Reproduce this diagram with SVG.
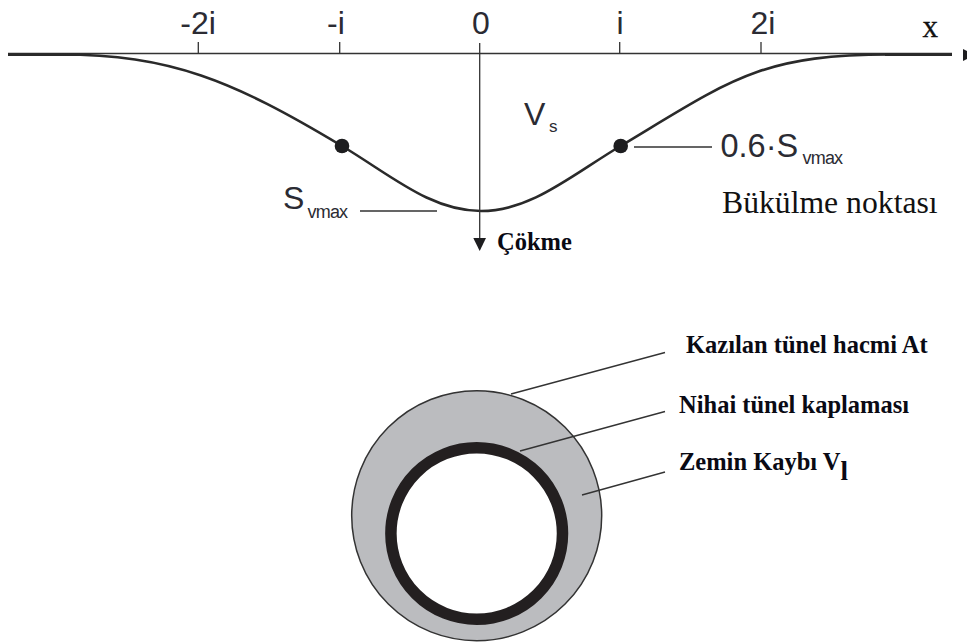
<svg xmlns="http://www.w3.org/2000/svg" width="967" height="643" viewBox="0 0 967 643">
<style>
.s{font-family:"Liberation Sans",Arial,sans-serif;fill:#2b2b33}
.t{font-size:32px;text-anchor:middle}
.v{font-size:18px;letter-spacing:-0.8px}
.b{font-family:"Liberation Serif","Times New Roman",serif;font-weight:bold;fill:#0a0a14;font-size:24.5px}
.r{font-family:"Liberation Serif","Times New Roman",serif;fill:#111}
.l{stroke:#333;fill:none;stroke-width:1.3}
.k{stroke:#2a2a2a;fill:none;stroke-width:2.6}
.d{fill:#1d1d1f}
</style>
<rect width="967" height="643" fill="#fff"/>
<g id="connectors">
<path class="l" d="M8 53.5H952M198.3 42V53.5M339.7 42V53.5M619.7 42V53.5M761 42V53.5"/>
<path class="k" d="M8 54.6H80M885 54.6H952"/>
<path class="d" d="M963 49L975 55L963 61Z"/>
<path class="k" d="M60 54.5C170 54.5 232 80 342 146C392 176 431 211 481 211C531 211 570.500 176 620.500 146C730.500 80 760 54.500 890 54.500"/>
<path class="l" d="M479.7 43V240"/>
<path class="d" d="M473.3 238H486L479.7 251Z"/>
<path class="l" d="M360 211H437M634 147H712"/>
</g>
<g id="point-left"><circle class="d" cx="342" cy="146" r="7.3"/></g>
<g id="point-right"><circle class="d" cx="620.700" cy="146" r="7.3"/></g>
<g id="axis-labels">
<text class="s t" x="198" y="33.5">-2i</text>
<text class="s t" x="336" y="33.5">-i</text>
<text class="s t" x="481" y="33.5">0</text>
<text class="s t" x="620" y="33.5">i</text>
<text class="s t" x="763" y="33.5">2i</text>
<text class="r" x="922.500" y="37" font-size="31" stroke="#111" stroke-width="0.3">x</text>
</g>
<g id="label-vs"><text class="s" x="524" y="125" font-size="32">V</text><text class="s" x="549" y="131.500" font-size="17">s</text></g>
<g id="label-svmax"><text class="s" x="283" y="209" font-size="32">S</text><text class="s v" x="307.500" y="218">vmax</text></g>
<g id="label-06"><text class="s" x="720.500" y="156.500" font-size="32.500">0.6·S</text><text class="s v" x="802.500" y="164">vmax</text></g>
<g id="label-bukulme"><text class="r" x="722" y="213" font-size="31.700">Bükülme noktası</text></g>
<g id="label-cokme"><text class="b" x="497" y="250">Çökme</text></g>
<g id="tunnel">
<circle cx="476.7" cy="515.7" r="125" fill="#bbbcbf" stroke="#333" stroke-width="1.5"/>
<circle cx="476.7" cy="533.5" r="85.8" fill="#fff" stroke="#231f20" stroke-width="11.5"/>
</g>
<g id="tunnel-leaders">
<path class="l" d="M511 394L665 352.500M520 451L665 411.500M582 495L665 472"/>
</g>
<g id="label-kazilan"><text class="b" x="686" y="353">Kazılan tünel hacmi At</text></g>
<g id="label-nihai"><text class="b" x="679" y="413">Nihai tünel kaplaması</text></g>
<g id="label-zemin"><text class="b" x="679" y="470">Zemin Kaybı V<tspan font-size="27" dy="10">l</tspan></text></g>
</svg>
